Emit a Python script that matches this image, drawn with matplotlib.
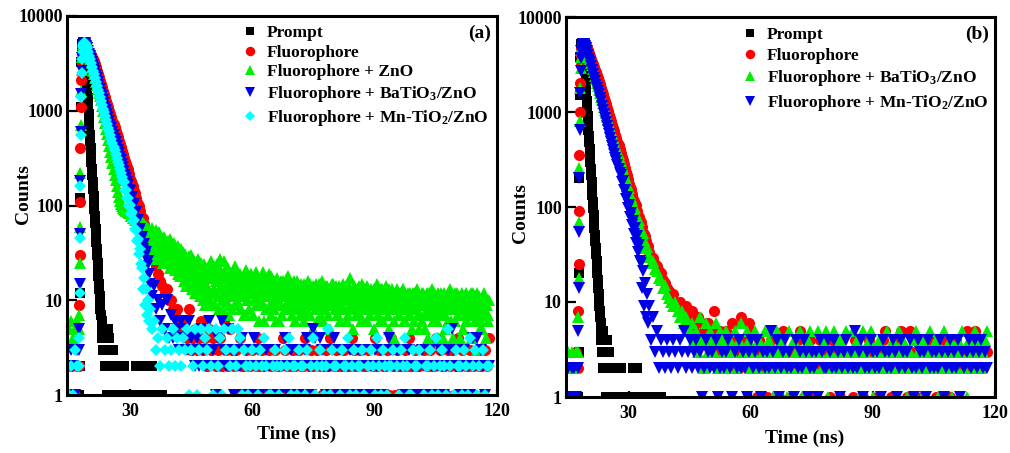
import numpy as np
import matplotlib.pyplot as plt

plt.rcParams['font.family'] = 'Liberation Serif'
plt.rcParams['font.weight'] = 'bold'
plt.rcParams['mathtext.fontset'] = 'custom'
plt.rcParams['mathtext.rm'] = 'Liberation Serif:bold'
plt.rcParams['mathtext.it'] = 'Liberation Serif:bold'
plt.rcParams['mathtext.bf'] = 'Liberation Serif:bold'

# time channels (ns)
t_head = np.concatenate([np.arange(15.0, 17.01, 0.5), np.arange(17.5, 19.45, 0.1),
                         np.arange(19.5, 34.8, 0.25)])
t_tail = np.arange(35.0, 118.01, 0.5)
t_fine = np.arange(35.0, 118.01, 0.25)
t_fine2 = np.arange(35.125, 117.9, 0.25)
t_prompt = np.concatenate([np.arange(17.5, 25.95, 0.1), np.arange(26.0, 40.01, 0.5)])

# ---------------- panel (a) ----------------
prompt_a = [0, 1, 2, 12, 120, 1100, 3300, 4700, 5050, 5150, 5200, 5200, 5150, 5100, 5050, 4900, 4400, 3700, 3000, 2450,
            2000, 1650, 1350, 1100, 920,
            780, 660, 560, 475, 400, 340, 290, 245, 208, 176,
            150, 127, 108, 92, 78, 66, 56, 48, 41, 35,
            30, 25, 21, 18, 15, 13, 11, 10, 8, 7,
            7, 6, 5, 4, 5, 3, 5, 4, 2, 4,
            3, 5, 3, 2, 4, 1, 3, 5, 2, 4,
            3, 2, 3, 1, 2, 3, 2, 3, 2, 3,
            2, 2, 2, 1, 2, 2, 1, 1, 0, 1, 0, 2, 2, 2, 1, 1, 0, 1, 2, 2, 1, 1, 1, 0, 1, 0, 0, 0, 0]

red_a = [1, 2, 0, 1, 2,
         2, 9, 30, 110, 400, 1100, 2100, 3200, 4000, 4600, 4950, 5150, 5250, 5250, 5200, 5150, 5050, 4950, 4850, 4750,
         4650, 4410, 4220, 4040, 3855, 3680, 3500, 3310, 3120, 2880,
         2655, 2448, 2257, 2080, 1919, 1768, 1630, 1504, 1386, 1278,
         1179, 1087, 1002, 923, 852, 785, 724, 667, 615, 567,
         523, 482, 445, 410, 378, 348, 321, 296, 273, 252,
         240, 215, 190, 182, 168, 160, 143, 137, 121, 107,
         103, 100, 87, 75, 74, 73, 64, 55, 53, 52,
         46, 42]
red_a_tail = [38, 32, 27, 23, 19, 16, 14, 12, 13, 10, 10, 8, 7, 8, 6, 6, 5, 5, 4, 8,
              3, 4, 5, 3, 4, 6, 3, 4, 2, 5, 3, 4, 2, 3, 4, 2, 6, 3, 2, 5, 3,
              2, 3, 1, 4, 2, 2, 3, 1, 2, 3, 1, 2, 4, 2, 3, 2, 1, 3, 2, 0,
              3, 2, 2, 1, 4, 3, 2, 1, 2, 3, 2, 1, 3, 2, 2, 4, 1, 2, 3, 2,
              0, 3, 2, 1, 2, 3, 2, 4, 1, 2, 3, 2, 1, 2, 3, 1, 2, 2, 4, 3,
              2, 1, 3, 0, 2, 2, 3, 1, 2, 4, 2, 3, 1, 2, 2, 3, 1, 4, 2, 1,
              3, 2, 2, 1, 3, 2, 4, 2, 1, 3, 2, 2, 0, 3, 1, 2, 3, 2, 2, 4,
              1, 3, 2, 2, 1, 3, 2, 3, 1, 2, 4, 2, 3, 1, 2, 2, 3, 2, 1, 3,
              2, 2, 1, 3, 2, 4]

green_a = [5, 6, 4, 5, 6,
           5, 7, 25, 60, 220, 700, 1600, 2700, 3700, 4400, 4850, 5100, 5200, 5250, 5200, 5100, 4950, 4800, 4700, 4600,
           4500, 4118, 3768, 3447, 3154, 2886, 2641, 2416, 2211, 2023,
           1851, 1694, 1550, 1418, 1297, 1128, 982, 854, 743, 646,
           562, 489, 426, 370, 322, 280, 244, 212, 185, 161,
           140, 124, 112, 104, 98, 94, 92, 90, 88, 87,
           85, 84, 88, 78, 84, 74, 80, 70, 78, 66,
           74, 62, 71, 58, 68, 55, 64, 52, 61, 49,
           58, 46]
green_a_tail = [44, 30, 58, 38, 50, 27, 45, 36, 33, 52, 28, 41, 45, 25, 38, 31, 27, 42, 35, 22,
                36, 24, 31, 40, 21, 33, 26, 37, 30, 18, 35, 24, 27, 16, 31, 21, 25, 15, 29, 19,
                23, 13, 27, 17, 15, 25, 12, 21, 20, 11, 24, 16, 22, 13, 9, 19, 14, 21, 10, 18,
                17, 9, 20, 13, 12, 19, 16, 8, 21, 14, 10, 17, 26, 12, 18, 9, 15, 20, 11, 14,
                8, 17, 13, 21, 16, 10, 19, 12, 14, 8, 17, 11, 18, 12, 7, 15, 10, 16, 13, 19,
                12, 7, 15, 18, 9, 14, 17, 11, 16, 10, 13, 20, 6, 15, 12, 17, 14, 9, 18, 11,
                13, 8, 15, 10, 17, 11, 6, 14, 9, 13, 16, 12, 11, 15, 8, 18, 14, 10, 12, 7,
                12, 16, 9, 13, 8, 11, 14, 10, 15, 9, 12, 6, 11, 14, 8, 16, 10, 7, 13, 12,
                14, 11, 9, 15, 6, 12, 10, 13, 16, 9, 11, 8, 12, 14, 7, 11, 9, 13, 15, 10,
                11, 8, 14, 12, 7, 10, 13, 9, 12, 15, 8, 11, 10, 6, 12, 14, 17, 9, 11, 8,
                13, 10, 7, 12, 9, 14, 11, 6, 12, 8, 13, 10, 11, 14, 9, 7, 10, 12, 8, 13,
                9, 11, 15, 7, 12, 8, 10, 13, 6, 11, 9, 12, 10, 7, 13, 9, 8, 12, 10, 4,
                11, 9, 13, 8, 7, 10, 12, 9, 13, 8, 6, 11, 9, 12, 10, 7, 11, 5, 9, 12,
                8, 10, 13, 7, 11, 9, 6, 12, 10, 7, 11, 8, 4, 12, 9, 10, 13, 8, 7, 11,
                9, 6, 12, 10, 8, 11, 9, 4, 12, 7, 10, 8, 6, 9, 13, 10, 10, 8, 11, 6,
                9, 12, 7, 10, 4, 8, 11, 9, 10, 7, 12, 6, 8, 11, 9, 4, 12, 7, 10, 8,
                3, 9, 11, 7, 10, 5, 8, 12, 7, 10, 9, 6, 10]
green_a_tail2 = [52, 35, 47, 40, 39, 55, 31, 44, 48, 29, 40, 34, 30, 46, 37, 26, 41, 28, 34, 44,
                 27, 38, 22, 33, 36, 23, 30, 19, 25, 34, 20, 29, 32, 19, 24, 14, 18, 28, 22, 30,
                 26, 16, 21, 12, 22, 14, 27, 17, 13, 25, 19, 10, 24, 15, 20, 12, 11, 22, 17, 26,
                 19, 12, 23, 9, 16, 24, 11, 20, 27, 14, 18, 8, 13, 21, 10, 17, 22, 7, 16, 19,
                 11, 18, 14, 23, 9, 20, 13, 16, 19, 11, 15, 7, 14, 21, 10, 17, 8, 15, 19, 12,
                 17, 10, 13, 20, 12, 16, 6, 14, 9, 18, 11, 15, 15, 8, 17, 12, 19, 11, 7, 14,
                 10, 16, 12, 6, 13, 9, 15, 11, 16, 7, 12, 14, 8, 13, 17, 10, 12, 15, 9, 13,
                 14, 6, 11, 16, 10, 13, 7, 12, 13, 10, 15, 8, 7, 12, 14, 10, 15, 9, 11, 5,
                 11, 13, 8, 12, 9, 15, 12, 7, 12, 6, 14, 10, 14, 11, 9, 13, 5, 12, 10, 15,
                 12, 9, 13, 7, 10, 14, 6, 11, 8, 12, 10, 14, 13, 7, 11, 9, 10, 12, 5, 14,
                 8, 11, 13, 9, 12, 7, 10, 15, 9, 13, 8, 11, 6, 10, 12, 9, 13, 8, 11, 5,
                 10, 12, 9, 7, 11, 6, 13, 10, 8, 12, 10, 14, 12, 9, 5, 11, 10, 13, 8, 6,
                 9, 11, 12, 7, 12, 8, 10, 13, 6, 11, 9, 10, 11, 7, 12, 8, 9, 12, 6, 10,
                 12, 8, 10, 5, 7, 10, 12, 9, 11, 5, 9, 12, 8, 11, 7, 10, 10, 6, 12, 8,
                 11, 9, 4, 10, 7, 12, 8, 11, 9, 5, 10, 12, 11, 8, 6, 9, 4, 10, 12, 8,
                 10, 7, 9, 11, 8, 12, 5, 9, 11, 6, 10, 8, 7, 9, 12, 4, 9, 11, 6, 10,
                 12, 8, 10, 5, 6, 10, 11, 8, 9, 4, 10, 7]

blue_a = [2, 3, 2, 1, 3,
          3, 5, 15, 50, 180, 600, 1500, 2600, 3600, 4300, 4750, 5000, 5150, 5200, 5200, 5100, 5000, 4850, 4700, 4600,
          4560, 4280, 4010, 3750, 3510, 3280, 3060, 2840, 2620, 2405,
          2205, 2021, 1854, 1700, 1558, 1428, 1310, 1202, 1101, 1010,
          927, 850, 780, 715, 656, 601, 551, 505, 463, 424,
          389, 357, 327, 300, 276, 252, 231, 212, 195, 179,
          164, 146, 143, 121, 122, 100, 103, 84, 86, 68,
          70, 54, 57, 43, 47, 35, 39, 29, 32, 23,
          26, 19]
blue_a_tail = [15, 11, 14, 8, 10, 6, 9, 5, 10, 4, 7, 4, 6, 5, 3, 6, 4, 5, 3, 6, 4,
               3, 2, 4, 2, 5, 3, 2, 3, 6, 2, 3, 1, 4, 2, 6, 3, 2, 5, 2, 3,
               1, 3, 2, 2, 4, 1, 3, 2, 2, 1, 4, 2, 3, 1, 2, 2, 3, 2, 1, 2,
               3, 2, 1, 2, 2, 4, 2, 1, 3, 2, 2, 3, 1, 2, 2, 3, 4, 2, 1, 5,
               4, 2, 4, 3, 2, 1, 2, 2, 3, 4, 2, 1, 3, 2, 2, 1, 2, 3, 2, 2,
               1, 3, 2, 2, 3, 1, 2, 2, 1, 3, 2, 2, 3, 1, 2, 2, 4, 3, 3, 2,
               3, 3, 2, 1, 2, 2, 3, 1, 2, 2, 1, 2, 3, 2, 2, 1, 3, 2, 2, 1,
               2, 3, 2, 1, 2, 3, 2, 5, 3, 2, 2, 1, 2, 3, 2, 2, 1, 4, 2, 4,
               2, 3, 2, 1, 2, 2]

cyan_a = [1, 2, 1, 3, 2,
          2, 4, 12, 45, 160, 550, 1400, 2500, 3500, 4200, 4700, 5000, 5150, 5200, 5200, 5100, 5000, 4900, 4800, 4700,
          4600, 4195, 3826, 3489, 3182, 2902, 2647, 2414, 2201, 2008,
          1831, 1670, 1523, 1389, 1267, 1155, 1053, 961, 876, 799,
          729, 665, 606, 553, 504, 460, 419, 382, 349, 318,
          290, 265, 241, 220, 201, 183, 175, 146, 144, 120,
          121, 100, 101, 82, 85, 68, 70, 56, 55, 42,
          44, 31, 35, 24, 22, 13, 17, 9, 13, 7,
          10, 6]
cyan_a_tail = [8, 5, 6, 3, 4, 2, 5, 3, 4, 2, 3, 5, 2, 4, 3, 2, 4, 3, 5, 1, 3,
               2, 5, 1, 3, 5, 2, 4, 3, 5, 2, 1, 5, 2, 4, 1, 5, 3, 0, 2, 5,
               3, 2, 5, 4, 1, 3, 2, 1, 2, 3, 0, 2, 1, 3, 2, 4, 2, 1, 1, 2,
               3, 2, 1, 2, 0, 3, 2, 4, 1, 2, 2, 1, 3, 2, 2, 1, 3, 0, 2, 4,
               1, 2, 3, 2, 1, 2, 5, 1, 3, 2, 2, 0, 1, 3, 2, 2, 4, 1, 2, 3,
               1, 2, 2, 3, 1, 0, 2, 3, 2, 1, 4, 2, 1, 3, 2, 1, 2, 2, 3, 0,
               2, 1, 3, 2, 4, 2, 1, 1, 3, 2, 2, 3, 0, 1, 2, 2, 3, 1, 2, 4,
               1, 2, 3, 2, 1, 5, 2, 0, 1, 3, 2, 2, 1, 3, 2, 1, 4, 2, 3, 1,
               2, 0, 3, 1, 2, 2]

# ---------------- panel (b) ----------------
prompt_b = [0, 1, 3, 20, 200, 1500, 3800, 4900, 5150, 5200, 5250, 5200, 5150, 5100, 5000, 4700, 4200, 3500, 2850, 2300,
            1900, 1580, 1300, 1080, 900,
            760, 650, 560, 480, 410, 350, 298, 254, 216, 184,
            157, 134, 114, 97, 83, 71, 60, 51, 44, 37,
            32, 27, 23, 20, 17, 14, 12, 10, 9, 8,
            7, 6, 5, 4, 5, 3, 4, 2, 5, 3,
            4, 2, 3, 4, 1, 3, 4, 2, 3, 2,
            3, 2, 3, 1, 2, 2, 1, 2, 2, 1,
            2, 2, 1, 2, 2, 1, 0, 1, 0, 1, 2, 2, 2, 1, 1, 0, 1, 1, 0, 1, 1, 0, 1, 1, 1, 0, 0, 0, 0]

red_b = [1, 0, 2, 1, 3,
         2, 8, 25, 90, 350, 1000, 2000, 3100, 4000, 4600, 4950, 5150, 5250, 5250, 5250, 5200, 5150, 5100, 5000, 4950,
         4900, 4700, 4450, 4150, 3850, 3600, 3400, 3200, 3000, 2800,
         2620, 2440, 2270, 2110, 1950, 1800, 1660, 1530, 1410, 1300,
         1200, 1105, 1019, 940, 866, 798, 736, 679, 626, 577,
         531, 486, 444, 406, 371, 339, 310, 283, 258, 236,
         215, 195, 175, 161, 155, 137, 120, 116, 107, 104,
         91, 80, 78, 72, 70, 61, 53, 52, 50, 44,
         38, 39]
red_b_tail = [34, 30, 29, 25, 24, 21, 20, 17, 16, 14, 13, 11, 12, 10, 9, 10, 8, 7, 9, 6,
              7, 8, 5, 6, 7, 4, 6, 5, 4, 6, 3, 5, 8, 4, 3, 5, 4, 3, 5, 2,
              4, 6, 3, 4, 2, 7, 3, 4, 2, 6, 5,
              2, 3, 1, 4, 2, 3, 2, 1, 3, 4, 2, 3, 2, 1, 4, 5, 2, 3, 2, 1,
              3, 2, 4, 5, 2, 1, 3, 2, 4, 2, 3, 1, 2, 4, 3, 2, 2, 3, 1, 4,
              2, 3, 2, 1, 4, 2, 3, 2, 3, 1, 4, 2, 2, 3, 1, 3, 2, 4, 2, 3,
              2, 1, 3, 2, 4, 5, 2, 3, 1, 2, 3, 4, 2, 5, 2, 3, 1, 5, 3, 2,
              2, 3, 4, 1, 2, 3, 2, 4, 2, 3, 1, 3, 2, 2, 4, 3, 2, 1, 3, 2,
              4, 2, 3, 2, 2, 5, 3, 4, 2, 5, 3, 4, 3, 2, 3, 3]

green_b = [3, 2, 3, 2, 3,
           3, 7, 18, 70, 260, 800, 1800, 2900, 3800, 4450, 4850, 5100, 5200, 5250, 5200, 5150, 5100, 5000, 4900, 4850,
           4800, 4550, 4250, 3900, 3580, 3300, 3100, 2860, 2620, 2400,
           2200, 2020, 1860, 1710, 1580, 1455, 1340, 1236, 1138, 1050,
           967, 892, 823, 759, 700, 645, 594, 548, 505, 466,
           426, 392, 360, 331, 304, 279, 256, 234, 214, 197,
           176, 163, 158, 138, 127, 118, 100, 100, 97, 85,
           72, 72, 73, 62, 52, 52, 53, 45, 37, 38,
           38, 32]
green_b_tail = [30, 26, 27, 22, 21, 18, 17, 14, 15, 12, 11, 10, 9, 10, 8, 7, 8, 6, 7, 6, 5,
                6, 4, 5, 3, 7, 4, 2, 6, 3, 5, 4, 3, 6, 2, 5, 4, 3, 5, 2, 4,
                3, 5, 2, 4, 6, 3, 1, 5, 4, 2, 3, 5, 2, 4, 1, 3, 5, 2, 4, 3,
                1, 2, 5, 3, 4, 2, 3, 1, 5, 2, 4, 3, 2, 5, 1, 3, 2, 4, 5, 3,
                2, 1, 5, 3, 2, 4, 5, 1, 3, 2, 5, 2, 3, 4, 1, 2, 5, 3, 2, 5,
                3, 4, 1, 2, 5, 3, 2, 4, 5, 1, 2, 3, 4, 2, 1, 3, 5, 2, 3, 4,
                1, 2, 5, 3, 4, 2, 1, 3, 2, 4, 5, 3, 2, 1, 4, 2, 3, 5, 2, 3,
                4, 1, 3, 2, 5, 3, 2, 4, 1, 3, 2, 4, 3, 5, 2, 1, 4, 3, 2, 5,
                3, 4, 2, 3, 4, 5]

blue_b = [2, 1, 2, 2, 1,
          2, 5, 14, 55, 200, 650, 1600, 2700, 3700, 4350, 4800, 5050, 5200, 5250, 5200, 5150, 5050, 4950, 4850, 4750,
          4700, 4348, 3980, 3640, 3320, 3030, 2760, 2520, 2300, 2100,
          1930, 1780, 1650, 1530, 1420, 1290, 1170, 1060, 960, 870,
          790, 715, 648, 588, 534, 485, 440, 400, 364, 331,
          302, 275, 250, 228, 215, 182, 188, 150, 152, 122,
          126, 98, 104, 79, 86, 64, 72, 52, 60, 42,
          49, 34, 40, 27, 26, 14, 21, 9, 16, 7,
          12, 6]
blue_b_tail = [9, 4, 7, 3, 5, 2, 4, 3, 2, 4, 3, 2, 4, 3, 2, 4, 3, 5, 2, 3, 4,
               2, 3, 4, 2, 3, 1, 2, 4, 3, 2, 3, 2, 4, 1, 2, 3, 2, 3, 4, 2,
               1, 3, 2, 4, 2, 3, 2, 1, 3, 4, 2, 3, 4, 2, 1, 3, 2, 3, 2, 5,
               3, 2, 4, 1, 2, 3, 4, 2, 3, 2, 1, 4, 2, 3, 2, 4, 3, 1, 2, 3,
               2, 3, 1, 4, 3, 2, 2, 4, 3, 2, 4, 2, 3, 1, 2, 3, 4, 2, 3, 2,
               5, 2, 3, 4, 1, 2, 3, 2, 4, 3, 2, 3, 2, 1, 4, 3, 2, 3, 2, 4,
               3, 1, 2, 4, 3, 2, 3, 4, 2, 1, 2, 4, 3, 2, 3, 1, 4, 2, 3, 2,
               3, 2, 4, 3, 1, 2, 3, 4, 2, 3, 2, 4, 1, 3, 2, 3, 4, 2, 3, 4,
               2, 3, 4, 2, 3, 2]

labels_a = ['Prompt', 'Fluorophore', 'Fluorophore + ZnO',
            'Fluorophore + BaTiO$_3$/ZnO', 'Fluorophore + Mn-TiO$_2$/ZnO']
labels_b = ['Prompt', 'Fluorophore', 'Fluorophore + BaTiO$_3$/ZnO', 'Fluorophore + Mn-TiO$_2$/ZnO']

t_main = np.concatenate([t_head, t_tail])
t_green_a = np.concatenate([t_head, t_fine, t_fine2])

styles = {'Prompt': ('s', 7.0, '#000000'),
          'red': ('o', 8.0, '#ff0000'),
          'green': ('^', 8.5, '#00ee00'),
          'blue': ('v', 8.5, '#0000e8'),
          'cyan': ('D', 5.8, '#00ffff')}


def put(ax, t, v, style, label):
    v = np.asarray(v, float)
    n = min(len(t), len(v))
    t, v = t[:n], v[:n]
    keep = v > 0
    mk, ms, col = styles[style]
    ax.plot(t[keep], v[keep], ls='none', marker=mk, ms=ms, mew=0, color=col, label=label)


def frame(ax, tag, leg_x, leg_y, spacing, tag_y, ylab_x, ylab_y, xlab_x, xlab_y):
    ax.set_yscale('log')
    ax.set_xlim(14.6, 120)
    ax.set_ylim(1, 10000)
    ax.set_xticks([30, 60, 90, 120])
    ax.set_xticklabels(['30', '60', '90', '120'])
    ax.set_yticks([1, 10, 100, 1000, 10000])
    ax.set_yticklabels(['1', '10', '100', '1000', '10000'])
    ax.yaxis.set_minor_locator(plt.NullLocator())
    ax.tick_params(axis='both', direction='in', width=1.6, labelsize=13)
    ax.tick_params(axis='x', length=4, pad=6)
    ax.tick_params(axis='y', length=7, pad=3)
    for s in ax.spines.values():
        s.set_linewidth(2.2)
    ax.set_ylabel('Counts', fontsize=14, fontweight='bold')
    ax.set_xlabel('Time (ns)', fontsize=14, fontweight='bold')
    ax.yaxis.set_label_coords(ylab_x, ylab_y)
    ax.xaxis.set_label_coords(xlab_x, xlab_y)
    ax.legend(loc='upper left', bbox_to_anchor=(leg_x, leg_y), frameon=False, fontsize=12.5,
              borderpad=0, borderaxespad=0, handlelength=1.0, handletextpad=0.5,
              labelspacing=spacing, markerscale=0.85)
    ax.text(0.985, tag_y, tag, transform=ax.transAxes, ha='right', va='center',
            fontsize=14, fontweight='bold')


fig = plt.figure(figsize=(10.1, 4.53), dpi=100)
ax1 = fig.add_axes([67 / 1010, 58 / 453, 430 / 1010, 379 / 453])
ax2 = fig.add_axes([566 / 1010, 56 / 453, 429 / 1010, 380 / 453])

put(ax1, t_prompt, prompt_a, 'Prompt', labels_a[0])
put(ax1, t_main, red_a + red_a_tail, 'red', labels_a[1])
put(ax1, t_green_a, green_a + green_a_tail + green_a_tail2, 'green', labels_a[2])
put(ax1, t_main, blue_a + blue_a_tail, 'blue', labels_a[3])
put(ax1, t_main, cyan_a + cyan_a_tail, 'cyan', labels_a[4])
frame(ax1, '(a)', 0.405, 0.977, 0.21, 0.954, -0.082, 0.53, 0.535, -0.08)

put(ax2, t_prompt, prompt_b, 'Prompt', labels_b[0])
put(ax2, t_main, red_b + red_b_tail, 'red', labels_b[1])
put(ax2, t_main, green_b + green_b_tail, 'green', labels_b[2])
put(ax2, t_main, blue_b + blue_b_tail, 'blue', labels_b[3])
frame(ax2, '(b)', 0.408, 0.974, 0.26, 0.954, -0.087, 0.484, 0.557, -0.085)

fig.savefig('out.png', dpi=100)
